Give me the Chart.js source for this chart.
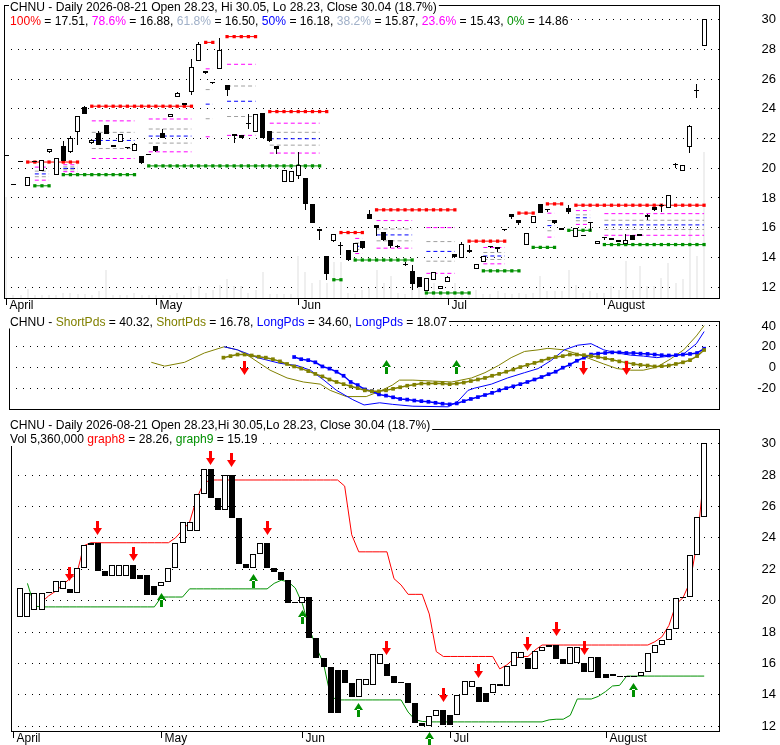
<!DOCTYPE html>
<html><head><meta charset="utf-8">
<script src="https://cdn.jsdelivr.net/npm/chart.js@4.4.1/dist/chart.umd.min.js"></script>
<style>
html,body{margin:0;padding:0;background:#fff;}
#wrap{position:relative;width:780px;height:745px;overflow:hidden;background:#fff;}
canvas{position:absolute;left:0;}
</style></head><body>
<div id="wrap">
<canvas id="c1" width="780" height="312" style="top:0px"></canvas>
<canvas id="c2" width="780" height="106" style="top:312px"></canvas>
<canvas id="c3" width="780" height="327" style="top:418px"></canvas>
</div>
<script>
// ---------- DATA (candle index -1 .. 97) ----------
const monthLabels = ['April','May','Jun','Jul','August'];
const monthTickIdx = [-1.05, 20, 40, 61, 83];
const priceTicks = [12,14,16,18,20,22,24,26,28,30];
const oscTicks = [40,20,0,-20];

const openP = [20.81,18.90,20.42,18.82,20.44,19.82,21.08,19.53,21.50,21.08,
22.44,24.13,21.69,22.37,22.89,21.42,21.78,21.40,21.17,20.80,
20.90,21.50,22.40,23.46,24.81,24.25,25.15,27.25,26.39,25.80,
26.66,25.58,22.17,22.21,22.95,22.44,23.75,22.48,21.50,19.05,
19.10,19.50,19.33,17.56,15.89,14.09,15.11,14.80,14.49,14.38,
15.09,16.89,16.16,15.71,15.20,14.75,13.55,13.11,12.67,11.75,
12.45,11.87,12.31,14.20,13.93,14.35,13.20,13.71,14.78,14.67,
15.82,16.93,16.49,14.82,16.33,17.60,17.18,16.49,15.83,17.30,
15.38,15.50,16.32,14.89,15.30,15.30,15.00,14.93,15.49,15.56,
16.82,17.42,17.50,17.33,20.27,19.82,21.40,25.18,28.23];
const highP = [20.81,18.96,20.48,19.42,20.50,20.56,21.30,20.71,21.87,22.20,
23.52,24.20,21.95,22.50,22.90,21.60,22.30,21.42,21.71,20.85,
20.95,21.50,22.67,23.69,25.15,24.43,27.36,28.50,26.55,25.80,
28.76,25.60,22.34,22.21,23.68,23.69,23.75,22.48,21.50,19.86,
19.84,21.11,19.33,17.56,15.89,14.09,15.56,15.05,14.49,14.98,
15.09,17.16,16.16,15.71,15.20,14.80,13.70,13.49,12.67,12.63,
13.04,12.10,12.71,14.20,15.05,14.80,13.52,14.09,14.78,14.67,
15.90,16.93,16.49,15.67,16.81,17.60,17.25,16.49,15.98,17.50,
16.00,15.50,16.38,15.11,15.40,15.30,15.16,15.60,15.49,15.56,
16.90,17.42,17.60,18.17,20.35,20.22,22.94,25.70,30.05];
const lowP = [20.81,18.88,20.40,18.82,20.40,19.82,21.05,19.53,20.50,21.00,
21.54,23.67,21.65,21.60,22.30,21.42,21.78,21.32,21.17,20.30,
20.88,21.10,22.06,23.46,24.81,24.25,24.92,27.25,26.32,25.70,
26.66,24.88,21.70,22.05,22.67,22.44,22.06,21.80,20.97,19.05,
19.10,19.30,17.16,16.31,15.16,12.49,15.06,14.16,13.76,14.38,
14.53,16.58,15.42,15.11,14.60,14.65,13.40,11.82,12.00,11.72,
12.45,11.87,12.31,13.93,13.93,14.31,13.20,13.71,14.60,14.33,
15.80,16.60,16.16,14.82,16.33,16.98,17.08,16.22,15.83,16.93,
15.38,15.42,15.78,14.89,15.20,15.20,15.00,14.93,15.20,15.42,
16.50,17.11,17.05,17.33,20.00,19.82,21.00,24.73,28.23];
const closeP = [20.81,18.94,20.46,19.42,20.46,20.56,21.27,20.71,20.50,22.06,
23.52,23.67,21.92,21.60,22.30,21.60,22.30,21.38,21.65,20.36,
20.92,21.17,22.06,23.69,25.04,24.42,26.81,28.37,26.54,25.75,
28.00,25.26,22.34,22.06,23.00,23.69,22.06,21.81,21.33,19.86,
19.84,20.20,17.60,16.33,15.77,12.86,15.56,14.77,13.84,14.98,
14.60,16.61,15.98,15.19,14.73,14.72,13.48,12.23,12.02,12.63,
13.04,12.10,12.69,14.00,14.88,14.52,13.52,14.09,14.71,14.56,
15.86,16.71,16.33,15.67,16.81,17.02,17.16,16.29,15.98,17.06,
16.00,15.46,16.38,15.09,15.32,15.20,15.14,15.15,15.20,15.42,
16.69,17.17,17.48,18.17,20.19,20.20,22.88,25.30,30.04];
const volumeM = [3.7,0.1,0.1,0.33,0.1,0.1,0.1,0.1,0.18,0.18,
0.16,0.16,0.1,0.25,1.02,0.1,0.1,0.1,0.18,0.1,
0.1,0.1,0.1,0.1,0.18,0.1,0.39,0.43,0.18,0.31,
0.47,0.71,0.43,0.45,0.18,0.31,0.97,0.16,0.16,0.16,
0.16,1.56,0.97,0.55,0.67,0.55,1.32,1.32,0.18,0.16,
0.31,0.37,1.04,0.55,0.8,0.18,0.16,0.8,0.49,0.18,
0.55,0.18,0.18,0.55,0.25,0.16,0.28,0.16,0.16,0.25,
0.18,0.16,0.18,0.16,0.18,0.8,0.25,0.25,0.25,1.04,
0.49,0.18,0.25,0.18,0.18,0.43,0.31,1.35,0.31,1.16,
0.43,0.43,0.74,1.29,0.55,0.70,2.57,1.56,5.36];

// lower panel body colour (index 0..97): 1 = hollow, 0 = filled
const p3Hollow = [1,1,1,1,1,1,1,0,1,1, 1,0,0,1,1,1,0,0,0,0, 1,1,1,1,1,1,1,0,0,1,
0,0,0,1,1,0,0,0,0,0, 1,0,0,0,0,0,0,0,1,1, 1,1,0,0,0,0,0,0,1,1,
0,0,1,1,1,0,0,1,1,1, 1,1,0,1,1,1,0,0,1,1, 0,1,0,0,0,0,0,0,1,1, 1,1,1,1,0,1,1,1];

// fibonacci retracement segments (top panel)
const redVal   = [20.42,24.18,28.48,28.87,23.82,15.67,17.20,15.09,16.98,17.60,17.51];
const redStart = [2,11,27,30,36,46,51,64,71,75,79];
const redEnd   = [9,25,28,34,44,49,62,69,73,77,97];
const greenVal   = [18.82,19.57,20.16,12.49,13.82,11.60,13.09,14.67,15.82,14.86];
const greenStart = [3,7,19,45,48,58,66,73,78,83];
const greenEnd   = [5,17,43,46,56,64,71,76,81,97];
const fibRatios = [0.786,0.618,0.5,0.382,0.236];

// oscillator panel
const shortThinX = [18.8,20.7,23.5,26.3,29.1,31.0,32.8,35.6,38.0,40.3,42.7,44.1,46.4,49.2,51.1,52.9,53.9,55.8,58.6,61.3,64.1,66.0,67.9,69.7,71.6,73.5,74.9,77.2,79.1,81.0,82.8,84.7,86.6,88.4,90.3,92.2,94.1,95.9,97];
const shortThinY = [4.9,1.2,4.9,13.9,19.9,16.9,10.0,-2.7,-10.2,-14.1,-16.2,-22.2,-28.2,-28.2,-23.1,-17.1,-12.3,-12.3,-13.2,-14.1,-10.2,-5.1,1.8,9.4,15.4,16.9,18.4,16.9,13.0,7.9,3.3,-1.2,-2.7,-2.7,0.3,7.9,16.9,30.4,40.32];
const longThinX = [29.1,31.0,33.8,37.0,39.4,41.3,43.1,45.0,47.3,48.9,51.1,52.9,55.8,60.8,62.2,63.6,64.5,66.9,69.2,71.6,73.5,75.3,77.2,79.1,81.0,82.8,84.7,86.6,88.4,90.3,92.2,94.1,95.9,97];
const longThinY = [19.9,16.9,9.4,3.9,1.8,-2.7,-11.7,-22.2,-31.2,-36.3,-34.2,-35.7,-37.5,-38.1,-32.6,-22.2,-20.1,-16.2,-10.2,-5.1,-1.2,6.4,16.9,21.4,22.9,16.9,13.9,11.8,10.9,9.4,10.9,13.0,22.9,34.60];
const shortSqStart = 29;
const shortSqVals = [9.4,10.9,12.4,12.4,11.5,10.3,9.4,7.9,5.8,3.3,0.9,-1.2,-3.6,-6.3,-8.7,-11.7,-14.1,-16.2,-18.3,-20.1,-22.2,-23.1,-23.1,-22.2,-20.7,-19.2,-17.7,-16.8,-15.6,-15.6,-15.3,-15.6,-16.2,-15.6,-14.7,-13.2,-11.7,-10.2,-8.1,-6.3,-4.2,-2.1,0.3,2.4,4.3,6.4,8.5,10.0,10.9,12.4,12.4,11.8,10.9,10.0,8.8,7.3,5.8,4.6,3.3,2.4,1.8,0.9,1.2,1.8,3.3,4.9,7.0,10.9,16.78];
const longSqStart = 39;
const longSqVals = [10.0,7.9,7.0,4.9,0.9,-1.2,-4.2,-8.1,-14.1,-17.1,-21.3,-23.1,-26.1,-27.3,-28.9,-30.5,-31.1,-32.0,-32.6,-33.2,-34.2,-35.1,-35.7,-34.8,-32.6,-30.5,-28.7,-26.7,-24.6,-22.2,-20.1,-18.3,-16.2,-14.1,-11.7,-9.3,-6.6,-4.2,-0.3,2.7,6.4,9.4,12.4,13.3,13.9,14.5,14.5,13.9,13.9,13.3,13.0,12.4,11.8,11.5,11.8,12.4,13.0,13.9,18.07];
const oscDownIdx = [32,80,86];
const oscDownVal = [-0.7,-0.7,-0.7];
const oscUpIdx = [52,62];
const oscUpVal = [0.2,0.2];

// lower panel stop lines (index -1 .. 97)
const graph8 = [null,null,null,null,19.9,20.3,20.6,21.0,21.4,21.7,
23.5,23.69,23.69,23.69,23.69,23.69,23.69,23.69,23.69,23.69,
23.69,23.69,23.69,24.0,24.5,25.0,26.5,27.5,27.69,27.69,
27.69,27.69,27.69,27.69,27.69,27.69,27.69,27.69,27.69,27.69,
27.69,27.69,27.69,27.69,27.69,27.69,27.69,27.3,24.2,23.11,
23.11,23.11,23.11,23.11,21.4,21.0,20.4,20.4,20.4,19.15,
16.75,16.44,16.44,16.44,16.44,16.44,16.44,16.44,16.44,15.65,
15.9,16.3,16.44,16.44,16.85,17.17,17.17,17.17,17.17,17.17,
17.17,17.17,17.17,17.17,17.17,17.17,17.17,17.17,17.17,17.17,
17.17,17.38,17.69,18.42,19.77,20.19,21.2,23.73,28.26];
const graph9 = [null,null,21.1,19.65,19.6,19.6,19.6,19.6,19.6,19.6,
19.6,19.6,19.6,19.6,19.6,19.6,19.6,19.6,19.6,19.6,
19.6,20.23,20.23,20.23,20.23,20.75,20.75,20.75,20.75,20.75,
20.75,20.75,20.75,20.75,20.75,20.75,20.75,21.1,21.3,21.2,
20.8,19.8,18.2,17.0,16.0,13.9,13.67,13.67,13.67,13.67,
13.67,13.67,13.67,13.67,13.67,13.67,12.9,12.4,12.3,12.27,
12.27,12.27,12.27,12.27,12.27,12.27,12.27,12.27,12.27,12.27,
12.27,12.27,12.27,12.27,12.27,12.27,12.4,12.44,12.44,12.69,
13.73,13.73,13.73,13.9,14.2,14.56,14.6,15.19,15.19,15.19,
15.19,15.19,15.19,15.19,15.19,15.19,15.19,15.19,15.19];
const p3DownIdx = [7,11,16,27,30,35,52,60,65,72,76,80];
const p3DownVal = [21.69,24.66,23.0,29.12,28.94,24.66,16.97,14.0,15.5,17.25,18.19,16.97];
const p3UpIdx = [20,33,40,48,58,87];
const p3UpVal = [20.03,21.25,18.94,13.0,11.19,14.28];

// ---------- helpers ----------
const FONT = '"Liberation Sans", Arial, Helvetica, sans-serif';
const X_MIN = -1.33, X_MAX = 99.1;

function segLine(vals, starts, ends) {
  const pts = [];
  vals.forEach((v, j) => {
    for (let i = starts[j]; i <= ends[j]; i++) pts.push({x: i, y: v});
    pts.push({x: ends[j], y: null});
  });
  return pts;
}
const fibMid = fibRatios.map(() => []);
redVal.forEach((hi, a) => greenVal.forEach((lo, b) => {
  const s = Math.max(redStart[a], greenStart[b]);
  const e = Math.min(redEnd[a], greenEnd[b]);
  if (e > s) fibRatios.forEach((r, k) => {
    const y = lo + r * (hi - lo);
    fibMid[k].push({x: s, y}, {x: e, y}, {x: e, y: null});
  });
}));
const fibColors = ['#ff00ff', '#a0a0a0', '#0000ff', '#a0a0a0', '#ff00ff'];

function makeArrow(color, down) {
  const c = document.createElement('canvas');
  c.width = 9; c.height = 14;
  const g = c.getContext('2d');
  g.fillStyle = color;
  g.beginPath();
  if (down) {
    g.rect(3, 0, 3, 8);
    g.moveTo(0, 7); g.lineTo(9, 7); g.lineTo(4.5, 14);
  } else {
    g.rect(3, 6, 3, 8);
    g.moveTo(0, 7); g.lineTo(9, 7); g.lineTo(4.5, 0);
  }
  g.fill();
  return c;
}
const redDown = makeArrow('#ff0000', true);
const greenUp = makeArrow('#009000', false);

function xScale() {
  return {type: 'linear', min: X_MIN, max: X_MAX, offset: false, display: false};
}
function yScale(min, max, ticks) {
  return {
    type: 'linear', position: 'right', min, max, offset: false, beginAtZero: false,
    afterBuildTicks: s => { s.ticks = ticks.map(v => ({value: v})); },
    ticks: {display: false},
    grid: {color: '#000', lineWidth: 1, drawTicks: false},
    border: {display: false, dash: [1, 6]}
  };
}
function baseOptions(pad) {
  return {
    responsive: false, animation: false, devicePixelRatio: 1, events: [],
    layout: {padding: pad},
    plugins: {legend: {display: false}, tooltip: {enabled: false}}
  };
}

// snap bar / marker elements (positioned by the scales) onto the pixel grid for crisp edges
const snapPlugin = {
  id: 'snap',
  beforeDatasetsDraw(chart) {
    chart.getSortedVisibleDatasetMetas().forEach(meta => {
      if (meta.type === 'bar') {
        meta.data.forEach(el => {
          const w = Math.round(el.width);
          el.width = w;
          el.x = (w % 2) ? Math.floor(el.x) + 0.5 : Math.round(el.x);
          let y = Math.round(el.y), b = Math.round(el.base);
          if (Math.abs(y - b) < 1 && meta.controller.getDataset().minBarLength) b = y + 1;
          el.y = y; el.base = b;
        });
      } else if (meta.type === 'scatter') {
        meta.data.forEach(el => { el.x = Math.floor(el.x) + 0.5; el.y = Math.round(el.y); });
      }
    });
  }
};

function decor(cfg) {
  return {
    id: 'decor',
    afterDraw(chart) {
      const ctx = chart.ctx, a = chart.chartArea;
      const ys = chart.scales.y, xs = chart.scales.x;
      ctx.save();
      ctx.strokeStyle = '#000';
      ctx.lineWidth = 1;
      ctx.strokeRect(Math.round(a.left) + 0.5, Math.round(a.top) + 0.5,
                     Math.round(a.right - a.left), Math.round(a.bottom - a.top));
      ctx.font = '13px ' + FONT;
      ctx.fillStyle = '#000';
      ctx.textAlign = 'right';
      ctx.textBaseline = 'middle';
      cfg.yTicks.forEach(v => ctx.fillText(String(v), 776, ys.getPixelForValue(v)));
      if (cfg.months) {
        ctx.font = '12px ' + FONT;
        ctx.textAlign = 'left';
        ctx.textBaseline = 'alphabetic';
        monthTickIdx.forEach((m, i) => {
          const px = Math.round(xs.getPixelForValue(m)) + 0.5;
          ctx.beginPath();
          ctx.moveTo(px, a.bottom);
          ctx.lineTo(px, a.bottom + 7);
          ctx.stroke();
          ctx.fillText(monthLabels[i], px + 3, a.bottom + 11);
        });
      }
      ctx.font = '12.1px ' + FONT;
      ctx.textAlign = 'left';
      ctx.textBaseline = 'alphabetic';
      cfg.titles.forEach(line => {
        let w = 0;
        line.segs.forEach(s => { w += ctx.measureText(s[0]).width; });
        ctx.fillStyle = '#fff';
        ctx.fillRect(9, line.y - 11, w + 3, 14);
        let x = 10;
        line.segs.forEach(s => {
          ctx.fillStyle = s[1];
          ctx.fillText(s[0], x, line.y);
          x += ctx.measureText(s[0]).width;
        });
      });
      ctx.restore();
    }
  };
}

// ---------- PANEL 1 ----------
new Chart(document.getElementById('c1'), {
  type: 'bar',
  data: {datasets: [
    {type: 'bar', yAxisID: 'yv', data: volumeM.map((v, k) => ({x: k - 1, y: v})),
     backgroundColor: '#efefef', barThickness: 2, grouped: false, inflateAmount: 0, order: 10},
    ...fibMid.map((pts, k) => ({type: 'line', data: pts, borderColor: fibColors[k], borderWidth: 1,
      borderDash: [4, 3], pointRadius: 0, order: 8})),
    {type: 'line', data: segLine(redVal, redStart, redEnd), borderColor: '#ff0000', borderWidth: 1,
     pointStyle: 'rect', pointRadius: 2.3, pointBackgroundColor: '#ff0000', pointBorderWidth: 0, order: 7},
    {type: 'line', data: segLine(greenVal, greenStart, greenEnd), borderColor: '#009000', borderWidth: 1,
     pointStyle: 'rect', pointRadius: 2.3, pointBackgroundColor: '#009000', pointBorderWidth: 0, order: 7},
    {type: 'bar', data: lowP.map((l, k) => ({x: k - 1, y: [l, highP[k]]})),
     backgroundColor: '#000', barThickness: 1, grouped: false, inflateAmount: 0, order: 3},
    {type: 'bar', data: openP.map((o, k) => ({x: k - 1, y: [o, closeP[k]]})),
     backgroundColor: openP.map((o, k) => closeP[k] >= o ? '#fff' : '#000'),
     borderColor: '#000', borderWidth: 1, borderSkipped: false, barThickness: 5,
     minBarLength: 1, grouped: false, inflateAmount: 0, order: 2}
  ]},
  options: Object.assign(baseOptions({left: 3, right: 61, top: 5, bottom: 14}), {
    scales: {x: xScale(), y: yScale(11.26, 31.0, priceTicks),
             yv: {type: 'linear', display: false, min: 0, max: 10.76}}
  }),
  plugins: [snapPlugin, decor({
    yTicks: priceTicks, months: true,
    titles: [
      {y: 11, segs: [['CHNU - Daily 2026-08-21 Open 28.23, Hi 30.05, Lo 28.23, Close 30.04 (18.7%)', '#000']]},
      {y: 25, segs: [['100%', '#ff0000'], [' = 17.51, ', '#000'], ['78.6%', '#ff00ff'], [' = 16.88, ', '#000'],
        ['61.8%', '#a0b0c8'], [' = 16.50, ', '#000'], ['50%', '#0000ff'], [' = 16.18, ', '#000'],
        ['38.2%', '#a0b0c8'], [' = 15.87, ', '#000'], ['23.6%', '#ff00ff'], [' = 15.43, ', '#000'],
        ['0%', '#009000'], [' = 14.86', '#000']]}
    ]
  })]
});

// ---------- PANEL 2 ----------
new Chart(document.getElementById('c2'), {
  type: 'line',
  data: {datasets: [
    {data: shortThinX.map((x, k) => ({x, y: shortThinY[k]})), borderColor: '#808000', borderWidth: 1, pointRadius: 0, order: 6},
    {data: longThinX.map((x, k) => ({x, y: longThinY[k]})), borderColor: '#0000ff', borderWidth: 1, pointRadius: 0, order: 5},
    {data: longSqVals.map((v, k) => ({x: longSqStart + k, y: v})), borderColor: '#0000ff', borderWidth: 1.5,
     pointStyle: 'rect', pointRadius: 2.6, pointBackgroundColor: '#0000ff', pointBorderWidth: 0, order: 4},
    {data: shortSqVals.map((v, k) => ({x: shortSqStart + k, y: v})), borderColor: '#808000', borderWidth: 1.5,
     pointStyle: 'rect', pointRadius: 2.6, pointBackgroundColor: '#808000', pointBorderWidth: 0, order: 3},
    {type: 'scatter', data: oscDownIdx.map((x, k) => ({x, y: oscDownVal[k]})), pointStyle: redDown, pointRadius: 8, order: 0, clip: false},
    {type: 'scatter', data: oscUpIdx.map((x, k) => ({x, y: oscUpVal[k]})), pointStyle: greenUp, pointRadius: 8, order: 0, clip: false}
  ]},
  options: Object.assign(baseOptions({left: 3, right: 61, top: 7, bottom: 5}), {
    scales: {x: xScale(), y: yScale(-40.2, 44.8, oscTicks)}
  }),
  plugins: [snapPlugin, decor({
    yTicks: oscTicks, months: false,
    titles: [{y: 13.5, segs: [['CHNU - ', '#000'], ['ShortPds', '#808000'], [' = 40.32, ', '#000'],
      ['ShortPds', '#808000'], [' = 16.78, ', '#000'], ['LongPds', '#0000ff'], [' = 34.60, ', '#000'],
      ['LongPds', '#0000ff'], [' = 18.07', '#000']]}]
  })]
});

// ---------- PANEL 3 ----------
new Chart(document.getElementById('c3'), {
  type: 'bar',
  data: {datasets: [
    {type: 'line', data: graph8.map((v, k) => ({x: k - 1, y: v})), borderColor: '#ff0000', borderWidth: 1, pointRadius: 0, order: 5},
    {type: 'line', data: graph9.map((v, k) => ({x: k - 1, y: v})), borderColor: '#009000', borderWidth: 1, pointRadius: 0, order: 5},
    {type: 'bar', data: closeP.slice(1).map((c, i) => ({x: i, y: [closeP[i], c]})),
     backgroundColor: p3Hollow.map(h => h ? '#fff' : '#000'), borderColor: '#000', borderWidth: 1,
     borderSkipped: false, barThickness: 6, minBarLength: 1, grouped: false, inflateAmount: 0, order: 2},
    {type: 'scatter', data: p3DownIdx.map((x, k) => ({x, y: p3DownVal[k]})), pointStyle: redDown, pointRadius: 10, order: 0, clip: false},
    {type: 'scatter', data: p3UpIdx.map((x, k) => ({x, y: p3UpVal[k]})), pointStyle: greenUp, pointRadius: 10, order: 0, clip: false}
  ]},
  options: Object.assign(baseOptions({left: 3, right: 61, top: 5, bottom: 14}), {
    scales: {x: xScale(), y: yScale(11.69, 30.94, priceTicks)}
  }),
  plugins: [snapPlugin, decor({
    yTicks: priceTicks, months: true,
    titles: [
      {y: 11, segs: [['CHNU - Daily 2026-08-21 Open 28.23,Hi 30.05,Lo 28.23, Close 30.04 (18.7%)', '#000']]},
      {y: 25, segs: [['Vol 5,360,000 ', '#000'], ['graph8', '#ff0000'], [' = 28.26, ', '#000'],
        ['graph9', '#009000'], [' = 15.19', '#000']]}
    ]
  })]
});
</script>
</body></html>
